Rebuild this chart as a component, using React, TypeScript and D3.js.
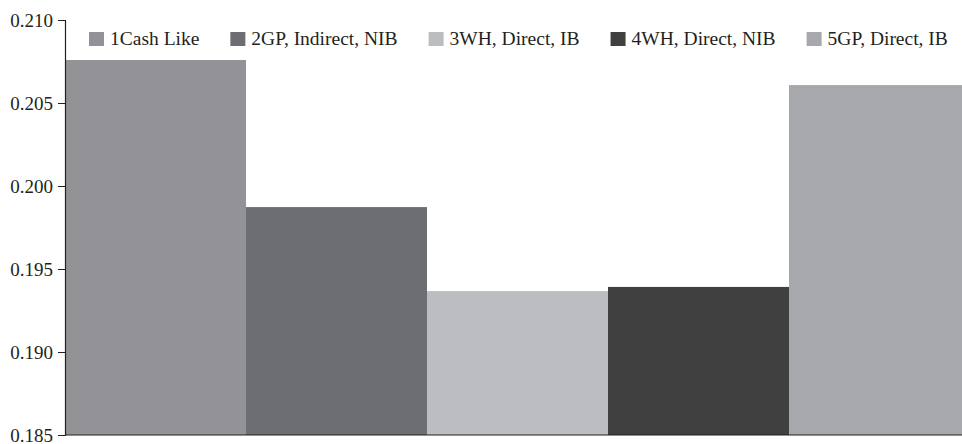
import React, { useEffect, useRef } from "react";
import * as d3 from "d3";

const categories = ["1Cash Like", "2GP, Indirect, NIB", "3WH, Direct, IB", "4WH, Direct, NIB", "5GP, Direct, IB"];
const values = [0.20759, 0.19873, 0.19367, 0.19392, 0.20608];
const colors = ["#939397", "#6d6e71", "#bcbdc0", "#404040", "#a7a8ab"];
const yTicks = [0.185, 0.19, 0.195, 0.2, 0.205, 0.21];

const W = 962;
const H = 444;
const margin = { top: 20, left: 65, bottom: 9 };
const FONT = "'Liberation Serif', 'Times New Roman', serif";

export default function App() {
  const ref = useRef<SVGSVGElement | null>(null);
  useEffect(() => {
    const svg = d3.select(ref.current);
    svg.selectAll("*").remove();
    const x = d3.scaleBand<string>().domain(categories).range([margin.left, 970]).padding(0);
    const y = d3.scaleLinear().domain([0.185, 0.21]).range([H - margin.bottom, margin.top]);

    svg.append("g")
      .selectAll("rect")
      .data(categories)
      .join("rect")
      .attr("x", (d) => x(d)!)
      .attr("width", x.bandwidth())
      .attr("y", (_, i) => y(values[i]))
      .attr("height", (_, i) => y(0.185) - y(values[i]))
      .attr("fill", (_, i) => colors[i]);

    // bottom axis line
    svg.append("line")
      .attr("x1", margin.left).attr("x2", W)
      .attr("y1", y(0.185)).attr("y2", y(0.185))
      .attr("stroke", "#231f20").attr("stroke-width", 1);

    const ax = svg.append("g").attr("transform", `translate(${margin.left},0)`)
      .call(d3.axisLeft(y).tickValues(yTicks).tickFormat(d3.format(".3f")).tickSizeOuter(0).tickSize(7).tickPadding(5));
    ax.attr("font-family", FONT);
    ax.select(".domain").attr("stroke", "#231f20").attr("stroke-width", 1.2);
    ax.selectAll(".tick line").attr("stroke", "#231f20");
    ax.selectAll(".tick text")
      .attr("font-family", FONT).attr("font-size", 19).attr("fill", "#231f20");

    // legend
    const lg = svg.append("g");
    let cx = 89;
    categories.forEach((c, i) => {
      lg.append("rect").attr("x", cx).attr("y", 32).attr("width", 15).attr("height", 14).attr("fill", colors[i]);
      const t = lg.append("text").attr("x", cx + 21).attr("y", 45)
        .attr("font-family", FONT).attr("font-size", 19.5).attr("fill", "#231f20").text(c);
      const w = (t.node() as SVGTextElement).getComputedTextLength();
      cx = cx + 21 + w + 31;
    });
  }, []);
  return (
    <svg ref={ref} width={W} height={H} style={{ display: "block", position: "absolute", left: 0, top: 0 }} />
  );
}
